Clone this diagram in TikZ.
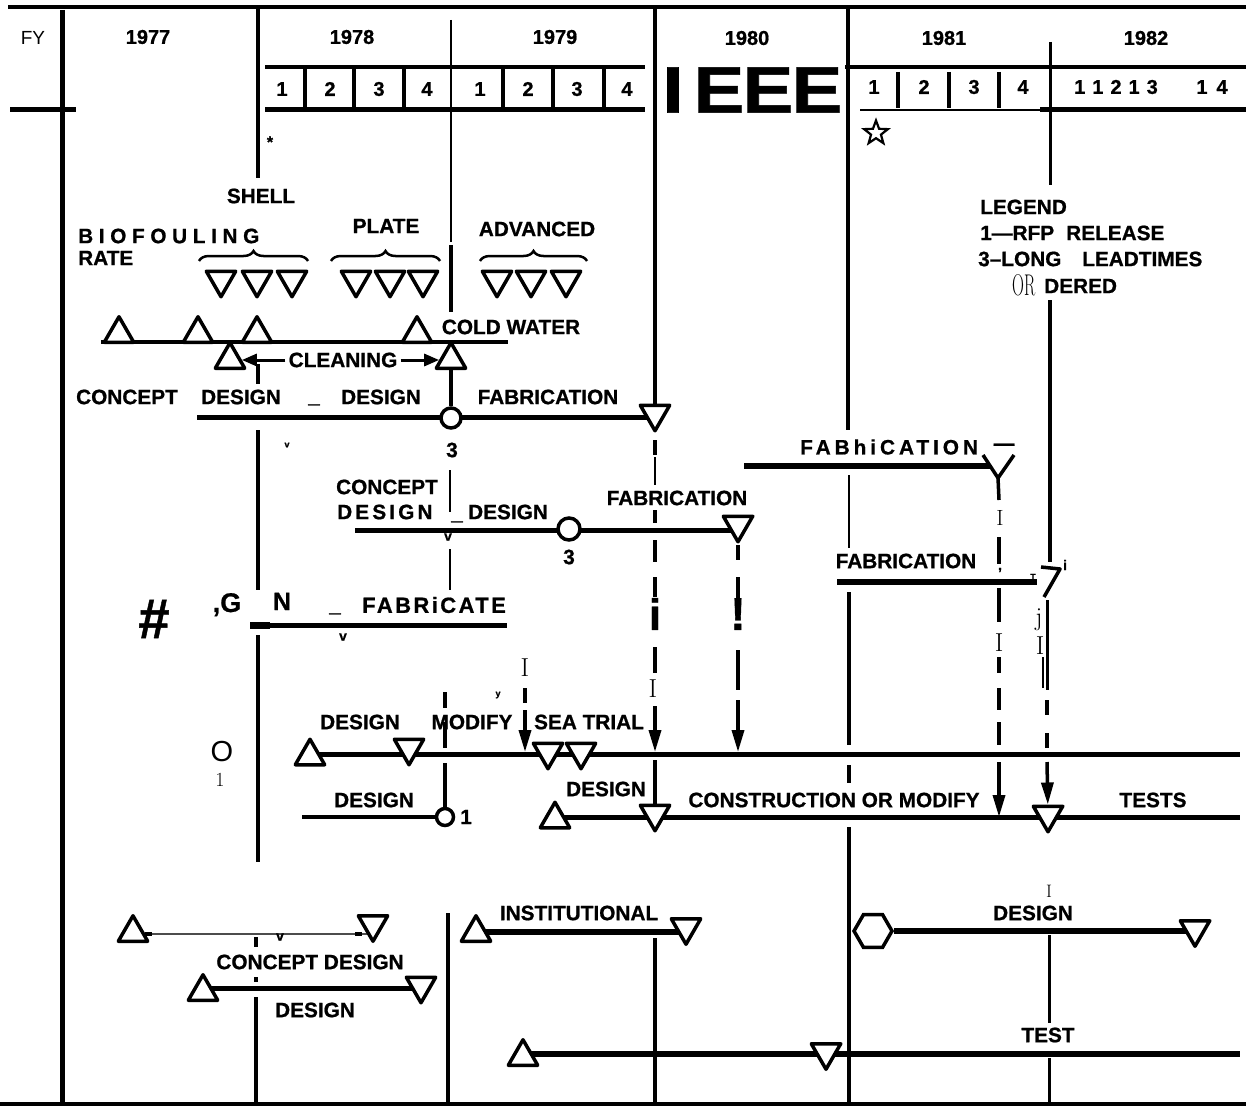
\documentclass[tikz,border=0pt]{standalone}
\usepackage{fontspec}
\newfontfamily\hv{Liberation Sans}[BoldFeatures={FakeBold=0.8}]
\usetikzlibrary{shapes.geometric,decorations.pathreplacing,arrows.meta}
\pgfdeclarelayer{back}
\pgfdeclarelayer{bg}
\pgfsetlayers{back,bg,main}
\tikzset{
  lab/.style={inner sep=0pt, font=\hv\fontsize{20.8}{22}\selectfont\bfseries},
  yr/.style={inner sep=0pt, font=\hv\fontsize{20}{22}\selectfont\bfseries},
  qn/.style={inner sep=0pt, font=\hv\fontsize{20}{22}\selectfont\bfseries},
  sm/.style={inner sep=0pt, font=\hv\fontsize{14}{14}\selectfont\bfseries},
  tny/.style={inner sep=0pt, font=\hv\fontsize{9}{9}\selectfont\bfseries},
  srf/.style={inner sep=0pt, font=\rmfamily\fontsize{26}{26}\selectfont},
  big/.style={inner sep=0pt, font=\hv\fontsize{66}{66}\selectfont\bfseries},
  gl/.style={line width=4.5pt},
  tl/.style={line width=1.5pt},
  bar/.style={line width=5pt},
  dseg/.style={line width=3.5pt},
  tri/.style={regular polygon, regular polygon sides=3, minimum size=34pt, inner sep=0pt, draw, fill=white, line width=3.5pt, line join=round},
  upT/.style={tri, yshift=-4.25pt},
  dnT/.style={tri, shape border rotate=180, yshift=4.25pt},
  mcirc/.style={circle, minimum size=20pt, inner sep=0pt, draw, fill=white, line width=3.5pt},
  hexa/.style={regular polygon, regular polygon sides=6, minimum size=38pt, inner sep=0pt, draw, fill=white, line width=3.5pt},
  arr/.style={line width=3.5pt, -{Triangle[length=22pt,width=12pt]}},
  carr/.style={line width=3pt, -{Triangle[length=15pt,width=12pt]}},
  brc/.style={line width=2.5pt, decorate, decoration={brace, amplitude=10pt}},
}
\begin{document}
\begin{tikzpicture}[x=1pt,y=-1pt]
\useasboundingbox (0,0) rectangle (1246,1110);
\begin{pgfonlayer}{back}
\fill[white] (0,0) rectangle (1246,1110);
\end{pgfonlayer}

% ---------------- header ----------------
\node[inner sep=0pt, font=\hv\fontsize{19}{21}\selectfont] (fy) at (33,38) {FY};
\node[yr] (y77) at (148,37) {1977};
\node[yr] (y78) at (352,37) {1978};
\node[yr] (y79) at (555,37) {1979};
\node[yr] (y80) at (747,38) {1980};
\node[yr] (y81) at (944,38) {1981};
\node[yr] (y82) at (1146,38) {1982};
\foreach \x/\q [count=\i] in {282/1,330/2,379/3,427/4,480/1,528/2,577/3,627/4}
  \node[qn] (qa\i) at (\x,89) {\q};
\foreach \x/\q [count=\i] in {874/1,924/2,974/3,1023/4}
  \node[qn] (qb\i) at (\x,87) {\q};
\node[qn] (qc1) at (1116,87) {1\hspace{7pt}1\hspace{7pt}2\hspace{7pt}1\hspace{7pt}3};
\node[qn] (qc2) at (1212,87) {1\hspace{9pt}4};
\node[big] (ie1) at (673,90) {\scalebox{1.15}[1]{I}};
\node[big] (ie2) at (719,90) {\scalebox{1.15}[1]{E}};
\node[big] (ie3) at (768,90) {\scalebox{1.15}[1]{E}};
\node[big] (ie4) at (817,90) {\scalebox{1.15}[1]{E}};
\node[inner sep=0pt, font=\hv\fontsize{16}{16}\selectfont\bfseries] (ast) at (270,142) {*};
\node[star, star points=5, star point ratio=2.4, minimum size=25pt, inner sep=0pt, draw, line width=2.2pt] (str) at (876,133) {};

\begin{pgfonlayer}{bg}
\draw[line width=4pt] (8,7) -- (1246,7);
\draw[line width=4pt] (0,1104) -- (1246,1104);
\draw[line width=5pt] (62,10) -- (62,1102);
\draw[line width=5pt] (10,110) -- (76,110);
\draw[line width=4pt] (265,67) -- (645,67);
\draw[line width=5pt] (265,110) -- (645,110);
\foreach \x in {305,354,404,503,553,604} \draw[line width=4pt] (\x,67) -- (\x,110);
\draw[line width=4pt] (845,67) -- (1246,67);
\draw[line width=2.5pt] (860,110) -- (1040,110);
\draw[line width=5pt] (1040,110) -- (1246,110);
\foreach \x in {898,949,999} \draw[line width=4pt] (\x,72) -- (\x,108);
% year verticals
\draw[gl] (258,8) -- (258,178);
\draw[gl] (258,430) -- (258,590);
\draw[gl] (258,635) -- (258,862);
\draw[line width=2.5pt] (451,20) -- (451,242);
\draw[line width=4pt] (451,245) -- (451,312);
\draw[gl] (848,8) -- (848,430);
\draw[tl] (849,475) -- (849,548);
\draw[line width=4pt] (849,592) -- (849,745);
\draw[line width=4pt] (849,765) -- (849,783);
\draw[gl] (849,827) -- (849,1102);
\draw[line width=3pt] (1050,42) -- (1050,185);
\draw[line width=3.5pt] (1050,300) -- (1050,562);
\end{pgfonlayer}

% ---------------- biofouling ----------------
\node[lab, anchor=west] (bio) at (78,236) {\addfontfeatures{LetterSpace=27}BIOFOULING};
\node[lab, anchor=west] (rate) at (78,258) {RATE};
\node[lab] (shell) at (261,196) {SHELL};
\node[lab] (plate) at (386,226) {PLATE};
\node[lab] (adv) at (537,229) {ADVANCED};
\draw[brc] (199,261) -- (308,261);
\draw[brc] (331,261) -- (440,261);
\draw[brc] (480,261) -- (587,261);
\foreach \x [count=\i] in {221,257,292,356,390,423,497,531,566}
  \node[dnT] (g\i) at (\x,284) {};
\coordinate (bl0) at (101,342);
\coordinate (bl1) at (508,342);
\node[upT] (b1) at (119,329.5) {};
\node[upT] (b2) at (198,329.5) {};
\node[upT] (b3) at (257,329.5) {};
\node[upT] (b4) at (417,329.5) {};
\node[upT] (ct1) at (230,355.5) {};
\node[upT] (ct2) at (451,355.5) {};
\node[lab] (clean) at (343,360) {CLEANING};
\node[lab] (cold) at (511,327) {COLD WATER};
\draw[carr] (clean.west) ++(-3,0) -- (ct1.east |- clean.west);
\draw[carr] (clean.east) ++(3,0) -- (ct2.west |- clean.east);

% ---------------- row 1 ----------------
\node[lab] (cpt1) at (127,397) {CONCEPT};
\node[lab] (ds1) at (241,397) {DESIGN};
\node[lab] (us1) at (314,404) {\_};
\node[lab] (ds2) at (381,397) {DESIGN};
\node[lab] (fab1) at (548,397) {FABRICATION};
\node[mcirc] (c1) at (451,418) {};
\node[lab] (n31) at (452,450) {3};
\node[dnT] (t1) at (655,418) {};
\node[tny] (vv1) at (287,445) {v};

% ---------------- FABhiCATION row ----------------
\node[lab, anchor=west] (fab2) at (800,447) {\addfontfeatures{LetterSpace=19}FABhiCATION};
\node[lab] (emd) at (1004,447) {\textemdash};
\coordinate (fh0) at (744,466);
\coordinate (fh1) at (990,466);
\coordinate (yl) at (983,455);
\coordinate (yr) at (1014,455);
\coordinate (yj) at (998,478);
\coordinate (ys) at (999,500);

% ---------------- row 2 ----------------
\node[lab] (cpt2) at (387,487) {CONCEPT};
\node[lab, anchor=west] (ds3) at (337,512) {\addfontfeatures{LetterSpace=15}DESIGN};
\node[lab] (us2) at (457,521) {\_};
\node[lab] (ds4) at (508,512) {DESIGN};
\node[lab] (fab3) at (677,498) {FABRICATION};
\node[mcirc, minimum size=22pt] (c2) at (569,529) {};
\node[lab] (n32) at (569,557) {3};
\node[dnT] (t2) at (738,529) {};
\node[sm] (vv2) at (448,537) {v};

% ---------------- right fabrication ----------------
\node[lab] (fab4) at (906,561) {FABRICATION};
\node[sm] (cm) at (1000,570) {,};
\node[tny] (tT) at (1033,577) {T};
\node[sm] (ii) at (1065,565) {i};
\coordinate (f4a) at (837,582);
\coordinate (f4b) at (1037,582);

% ---------------- fabricate row ----------------
\node[inner sep=0pt, font=\hv\fontsize{56}{56}\selectfont\bfseries] (hash) at (154,619) {\#};
\node[inner sep=0pt, font=\hv\fontsize{27}{28}\selectfont\bfseries, anchor=base] (cg) at (227,612) {,G};
\node[inner sep=0pt, font=\hv\fontsize{25}{26}\selectfont\bfseries, anchor=base] (nn) at (282,610) {N};
\node[lab] (us3) at (335,613) {\_};
\node[inner sep=0pt, font=\hv\fontsize{22}{24}\selectfont\bfseries, anchor=west] (fabc) at (362,605) {\addfontfeatures{LetterSpace=11}FABRiCATE};
\node[sm] (vv3) at (343,637) {v};
\coordinate (fc0) at (250,625);
\coordinate (fc1) at (507,625);

% dashed-line glyphs
\node[inner sep=0pt, font=\hv\fontsize{44}{44}\selectfont\bfseries] (gi) at (655,614) {i};
\node[inner sep=0pt, font=\hv\fontsize{46}{46}\selectfont\bfseries] (gx) at (738,614) {!};
\node[srf] (sI1) at (525,668) {I};
\node[srf] (sI2) at (653,689) {I};
\node[srf, font=\rmfamily\fontsize{22}{22}\selectfont] (sI3) at (1000,518) {I};
\node[srf] (sI4) at (999,643) {I};
\node[srf] (sI5) at (1040,646) {I};
\node[srf] (sj) at (1039,620) {j};
\node[tny] (yy) at (498,695) {y};

% ---------------- design rows ----------------
\node[inner sep=0pt, font=\hv\fontsize{29}{30}\selectfont] (oo) at (222,752) {O};
\node[srf, font=\rmfamily\fontsize{20}{20}\selectfont] (one) at (220,780) {1};
\node[lab] (ds5) at (360,722) {DESIGN};
\node[lab] (mod) at (472,722) {MODIFY};
\node[lab] (sea) at (589,722) {SEA TRIAL};
\node[upT] (dr1) at (310,752) {};
\node[dnT] (dr2) at (409,752) {};
\node[dnT] (dr3) at (548,756) {};
\node[dnT] (dr4) at (581,756) {};
\coordinate (r3e) at (1240,754);

\node[lab] (ds6) at (374,800) {DESIGN};
\coordinate (r4s) at (302,817);
\node[mcirc, minimum size=17pt] (cir1) at (445,817) {};
\node[lab] (n1) at (466,817) {1};

\node[upT] (cu) at (555,815) {};
\node[lab] (ds7) at (606,789) {DESIGN};
\node[dnT] (cd1) at (655,818) {};
\node[lab] (cons) at (834,800) {CONSTRUCTION OR MODIFY};
\node[dnT] (cd2) at (1048,819) {};
\node[lab] (tests) at (1153,800) {TESTS};
\coordinate (r5e) at (1240,817);

% ---------------- bottom ----------------
\node[upT] (bu1) at (133,928.5) {};
\node[dnT] (bd1) at (373,928.5) {};
\node[sm] (vv4) at (280,937) {v};
\node[lab] (cdb) at (310,962) {CONCEPT DESIGN};
\node[upT] (bu2) at (203,987.5) {};
\node[dnT] (bd2) at (421,990) {};
\node[lab] (dsb) at (315,1010) {DESIGN};
\node[upT] (iu) at (476,928.5) {};
\node[dnT] (id) at (686,931.5) {};
\node[lab] (inst) at (579,913) {INSTITUTIONAL};
\node[hexa] (hx) at (873,931) {};
\node[dnT] (hd) at (1195,933.5) {};
\node[lab] (dsx) at (1033,913) {DESIGN};
\node[srf, font=\rmfamily\fontsize{18}{18}\selectfont] (sI6) at (1049,891) {I};
\node[lab] (test) at (1048,1035) {TEST};
\node[upT] (tu) at (523,1052.5) {};
\node[dnT] (td) at (826,1056.5) {};
\coordinate (r8e) at (1240,1054);

% ---------------- legend ----------------
\node[lab, anchor=west] (leg) at (980,207) {LEGEND};
\node[lab, anchor=west] (lg1a) at (980,233) {1—RFP};
\node[lab, anchor=west] (lg1b) at (1066,233) {RELEASE};
\node[lab, anchor=west] (lg2a) at (978,259) {3–LONG};
\node[lab, anchor=west] (lg2b) at (1082,259) {LEADTIMES};
\node[inner sep=0pt, font=\rmfamily\fontsize{30}{30}\selectfont, anchor=west] (lor) at (1012,285) {\scalebox{0.55}[1]{OR}};
\node[lab, anchor=west] (lder) at (1044,286) {DERED};

% ---------------- connectors ----------------
\begin{pgfonlayer}{bg}
\draw[line width=4pt] (bl0) -- (bl1);
\draw[line width=3.5pt] (258,364) -- (258,384);
\draw[line width=3.5pt] (ct2) -- (c1);
\draw[bar] (197,417) -- (t1 |- 0,417);
\draw[gl] (655,8) -- (t1);
\draw[line width=6pt] (fh0) -- (fh1);
\draw[line width=3.5pt, line join=round] (yl) -- (yj) -- (yr);
\draw[line width=3.5pt] (yj) -- (ys);
\draw[bar] (355,530) -- (t2 |- 0,530);
\draw[tl] (450,470) -- (450,512);
\draw[tl] (450,549) -- (450,590);
\draw[line width=6pt] (f4a) -- (f4b);
\draw[line width=3.5pt, line join=round] (1041,567) -- (1060,569) -- (1044,597);
\draw[bar] (fc0) -- (fc1);
\draw[line width=7pt] (fc0) -- (270,625);
% dashed verticals at 655
\draw[dseg] (655,440) -- (655,455);
\draw[tl] (655,457) -- (655,485);
\draw[dseg] (655,510) -- (655,523);
\draw[dseg] (655,540) -- (655,562);
\draw[dseg] (655,577) -- (655,597);
\draw[dseg] (655,647) -- (655,673);
\draw[arr] (655,706) -- (655,752);
\draw[line width=3.5pt] (655,760) -- (cd1);
% dashed at 738
\draw[dseg] (t2) -- (738,560);
\draw[dseg] (738,577) -- (738,600);
\draw[dseg] (738,650) -- (738,690);
\draw[arr] (738,700) -- (738,752);
% dashed at 525
\draw[dseg] (525,688) -- (525,703);
\draw[arr] (525,710) -- (525,752);
% dashed at 445
\draw[dseg] (445,692) -- (445,708);
\draw[dseg] (445,722) -- (445,748);
\draw[dseg] (445,763) -- (cir1);
% dashed at 999
\draw[dseg] (999,537) -- (999,564);
\draw[dseg] (999,588) -- (999,622);
\draw[dseg] (999,657) -- (999,673);
\draw[dseg] (999,688) -- (999,710);
\draw[dseg] (999,722) -- (999,745);
\draw[arr] (999,762) -- (999,817);
% at 1047
\draw[line width=3pt] (1047,600) -- (1047,690);
\draw[tl] (1043,657) -- (1043,688);
\draw[dseg] (1047,700) -- (1047,715);
\draw[dseg] (1047,733) -- (1047,748);
\draw[arr] (1047,762) -- (cd2);
% rows
\draw[bar] (dr1 |- r3e) -- (r3e);
\draw[line width=4pt] (r4s) -- (cir1);
\draw[bar] (cu |- r5e) -- (r5e);
% bottom
\draw[line width=1.2pt, black!70] (bu1 |- 0,934) -- (bd1 |- 0,934);
\draw[line width=4pt] (145,934) -- (152,934);
\draw[line width=4pt] (355,934) -- (362,934);
\draw[bar] (bu2 |- 0,988) -- (bd2 |- 0,988);
\draw[dseg] (256,937) -- (256,947);
\draw[dseg] (256,977) -- (256,982);
\draw[dseg] (256,997) -- (256,1102);
\draw[line width=3.5pt] (448,913) -- (448,1102);
\draw[line width=6pt] (iu |- 0,932) -- (id |- 0,932);
\draw[line width=4pt] (655,938) -- (655,1102);
\draw[line width=6pt] (hx) -- (hd |- hx);
\draw[line width=3pt] (1049,935) -- (1049,1023);
\draw[line width=3pt] (1049,1058) -- (1049,1102);
\draw[line width=6pt] (tu |- r8e) -- (r8e);
\end{pgfonlayer}
\end{tikzpicture}
\end{document}
